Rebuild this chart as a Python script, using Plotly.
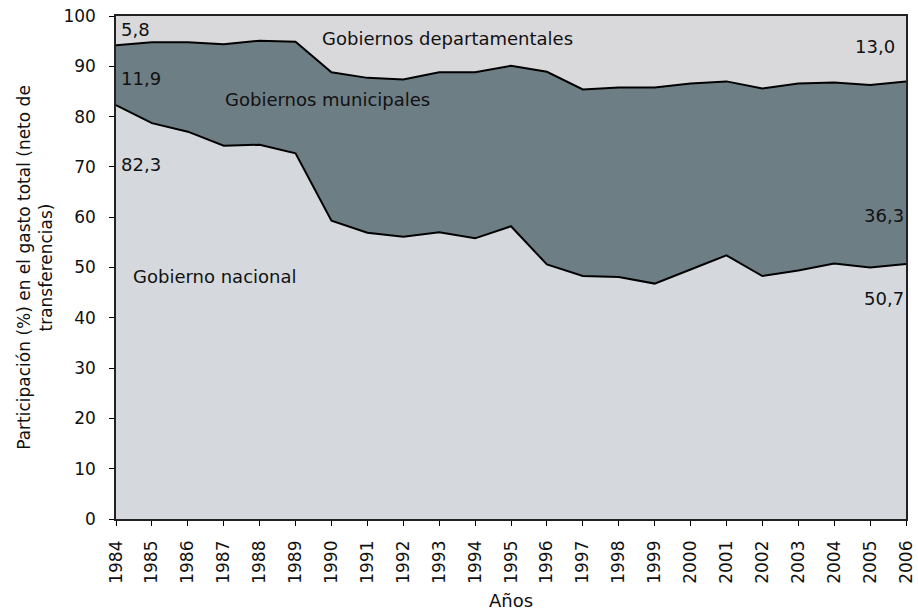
import plotly.graph_objects as go

years = list(range(1984, 2007))
nacional = [82.3, 78.7, 77.0, 74.2, 74.4, 72.7, 59.3, 56.9, 56.1, 57.0, 55.8, 58.2,
            50.6, 48.3, 48.1, 46.8, 49.6, 52.4, 48.3, 49.4, 50.8, 50.0, 50.7]
municipales = [11.9, 16.1, 17.8, 20.2, 20.7, 22.2, 29.5, 30.8, 31.3, 31.8, 33.0, 31.9,
               38.3, 37.1, 37.7, 39.0, 37.0, 34.6, 37.3, 37.2, 36.0, 36.3, 36.3]
departamentales = [5.8, 5.2, 5.2, 5.6, 4.9, 5.1, 11.2, 12.3, 12.6, 11.2, 11.2, 9.9,
                   11.1, 14.6, 14.2, 14.2, 13.4, 13.0, 14.4, 13.4, 13.2, 13.7, 13.0]

FONT = "DejaVu Sans"
fig = go.Figure()
fig.add_trace(go.Scatter(x=years, y=nacional, stackgroup="g", mode="lines",
                         line=dict(color="black", width=2), fillcolor="#D5D9DD",
                         name="Gobierno nacional"))
fig.add_trace(go.Scatter(x=years, y=municipales, stackgroup="g", mode="lines",
                         line=dict(color="black", width=2), fillcolor="#6E7E85",
                         name="Gobiernos municipales"))
fig.add_trace(go.Scatter(x=years, y=departamentales, stackgroup="g", mode="lines",
                         line=dict(color="rgba(0,0,0,0)", width=0), fillcolor="#D9D9DC",
                         name="Gobiernos departamentales"))

anns = [
    (1984.07, 97.4, "5,8", "left"),
    (1984.07, 87.5, "11,9", "left"),
    (1984.07, 70.4, "82,3", "left"),
    (1993.22, 95.6, "Gobiernos departamentales", "center"),
    (2005.75, 93.9, "13,0", "right"),
    (1989.88, 83.5, "Gobiernos municipales", "center"),
    (1986.75, 48.3, "Gobierno nacional", "center"),
    (2006.0, 60.3, "36,3", "right"),
    (2006.0, 43.9, "50,7", "right"),
]
for x, y, t, a in anns:
    fig.add_annotation(x=x, y=y, text=t, xanchor=a, yanchor="middle", showarrow=False,
                       font=dict(family=FONT, size=18, color="#111"))

fig.update_layout(
    width=918, height=611,
    margin=dict(l=116, r=12, t=16, b=92),
    paper_bgcolor="white", plot_bgcolor="white",
    showlegend=False,
    font=dict(family=FONT, size=17, color="#111"),
    xaxis=dict(range=[1984, 2006], tickmode="array", tickvals=years,
               ticktext=[str(y) for y in years], tickangle=-90,
               ticks="outside", ticklen=5, tickcolor="black", ticklabelstandoff=8,
               tickfont=dict(size=17),
               showline=True, linecolor="#222", linewidth=1.5, mirror=True,
               showgrid=False, zeroline=False, automargin=False,
               title=dict(text="Años", standoff=15, font=dict(size=18))),
    yaxis=dict(range=[0, 100], dtick=10, ticks="outside", ticklen=5, tickcolor="black",
               ticklabelstandoff=10, tickfont=dict(size=17),
               showline=True, linecolor="#222", linewidth=1.5, mirror=True,
               showgrid=False, zeroline=False, automargin=False,
               title=dict(text="Participación (%) en el gasto total (neto de<br>transferencias)",
                          standoff=6, font=dict(size=17))),
)
fig.write_html("out.html", config={"displayModeBar": False},
               post_script="document.body.style.margin='0';document.body.style.overflow='hidden';")
